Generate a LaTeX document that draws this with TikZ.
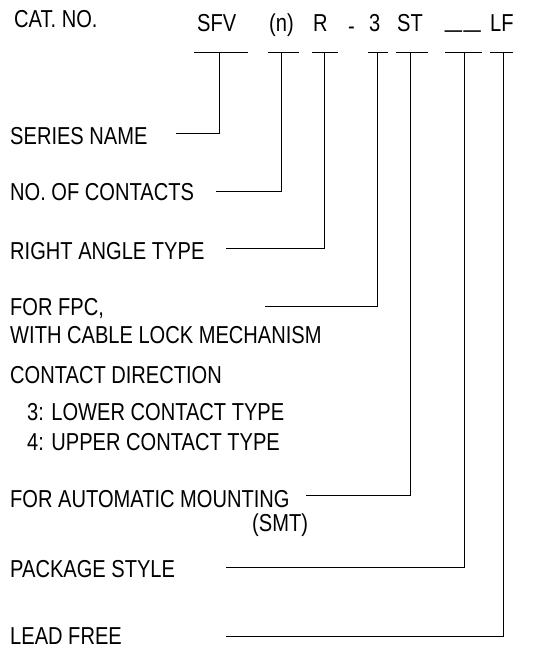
\documentclass[tikz,border=0pt]{standalone}
\usepackage{fontspec}
\setmainfont{Liberation Sans}[FakeStretch=0.82]
\usetikzlibrary{positioning}

\tikzset{
  lbl/.style={anchor=base west, inner sep=0pt, font=\fontsize{24.5}{28}\selectfont},
  lead/.style={line width=0.9pt},
}

\begin{document}
\begin{tikzpicture}[x=1pt,y=-1pt]
  \useasboundingbox (0,0) rectangle (544,650);

  % catalogue number
  \node[lbl] (cat) at (14,28) {CAT. NO.};
  \node[lbl] (csfv) at (197,32) {SFV};
  \node[lbl] (cn)   at (269,32) {(n)};
  \node[lbl] (cr)   at (313,32) {R};
  \node[lbl] (cdash) at (348,35) {-};
  \node[lbl] (c3)   at (369,32) {3};
  \node[lbl] (cst)  at (397,32) {ST};
  \node[lbl] (cpk)  at (445,28) {\scalebox{1.5}[1]{\_}\hspace{2pt}\scalebox{1.5}[1]{\_}};
  \node[lbl] (clf)  at (490,32) {LF};

  % bars under the code
  \foreach \a/\b in {194/248,268/299,312/338,368/388,396/428,445/482,490/513}
    \draw[lead] (\a,52) -- (\b,52);

  % taps on the bars
  \coordinate (tsfv) at (219,52);
  \coordinate (tn)   at (281,52);
  \coordinate (tr)   at (324,52);
  \coordinate (t3)   at (377,52);
  \coordinate (tst)  at (410,52);
  \coordinate (tpk)  at (464,52);
  \coordinate (tlf)  at (503,52);

  % descriptions
  \node[lbl] (sname)  at (10,144) {SERIES NAME};
  \node[lbl] (ncont)  at (10,200) {NO. OF CONTACTS};
  \node[lbl] (rangle) at (10,259) {RIGHT ANGLE TYPE};
  \node[lbl] (fpc)    at (10,315) {FOR FPC,};
  \node[lbl] (fpcb)   at (10,343) {WITH CABLE LOCK MECHANISM};
  \node[lbl] (cdir)   at (10,383) {CONTACT DIRECTION};
  \node[lbl] (clow)   at (27,420) {3: LOWER CONTACT TYPE};
  \node[lbl] (cup)    at (27,450) {4: UPPER CONTACT TYPE};
  \node[lbl] (smt)    at (10,507) {FOR AUTOMATIC MOUNTING};
  \node[lbl] (smtb)   at (252,531) {(SMT)};
  \node[lbl] (pkg)    at (10,577) {PACKAGE STYLE};
  \node[lbl] (lfree)  at (10,644) {LEAD FREE};

  % leader ends
  \coordinate (esname)  at (176,133);
  \coordinate (encont)  at (216,191);
  \coordinate (erangle) at (226,248);
  \coordinate (efpc)    at (265,306);
  \coordinate (esmt)    at (306,495);
  \coordinate (epkg)    at (226,567);
  \coordinate (elfree)  at (226,636);

  \draw[lead] (esname)  -| (tsfv);
  \draw[lead] (encont)  -| (tn);
  \draw[lead] (erangle) -| (tr);
  \draw[lead] (efpc)    -| (t3);
  \draw[lead] (esmt)    -| (tst);
  \draw[lead] (epkg)    -| (tpk);
  \draw[lead] (elfree)  -| (tlf);
\end{tikzpicture}
\end{document}
